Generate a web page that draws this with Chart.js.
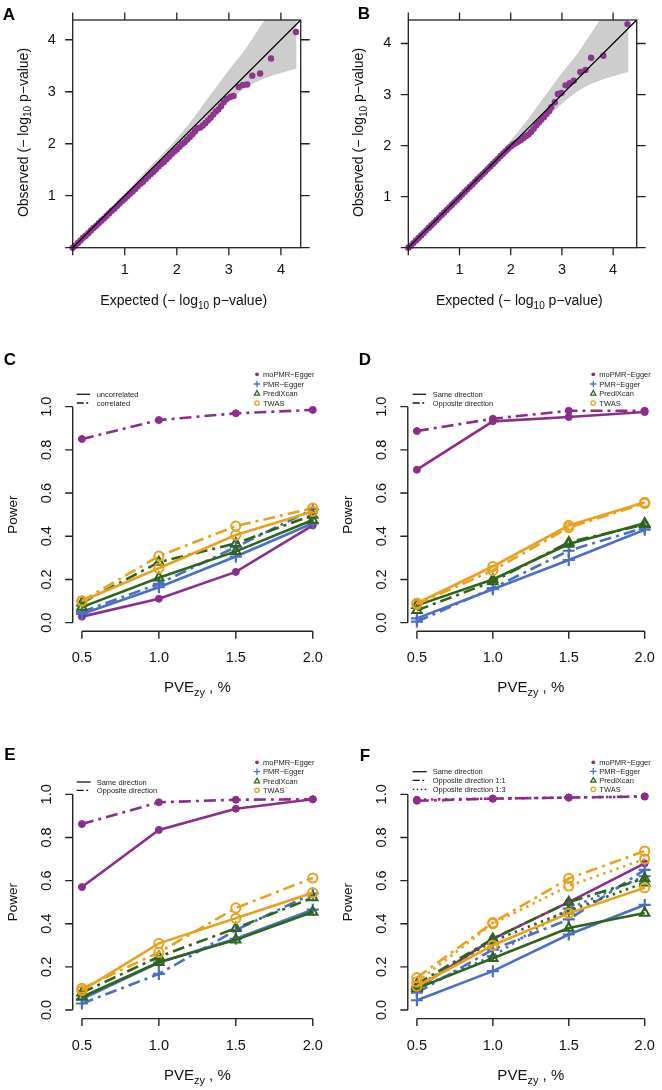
<!DOCTYPE html>
<html><head><meta charset="utf-8">
<script src="https://cdn.jsdelivr.net/npm/chart.js@4.4.0/dist/chart.umd.min.js"></script>
<style>
html,body{margin:0;padding:0;background:#fff;}
body{width:662px;height:1090px;position:relative;overflow:hidden;}
.p{position:absolute;}
canvas{display:block;}
</style></head><body>
<div class="p" style="left:0;top:0;width:331px;height:320px"><canvas id="cA" width="331" height="320"></canvas></div>
<div class="p" style="left:331px;top:0;width:331px;height:320px"><canvas id="cB" width="331" height="320"></canvas></div>
<div class="p" style="left:0;top:320px;width:331px;height:380px"><canvas id="cC" width="331" height="380"></canvas></div>
<div class="p" style="left:331px;top:320px;width:331px;height:380px"><canvas id="cD" width="331" height="380"></canvas></div>
<div class="p" style="left:0;top:700px;width:331px;height:390px"><canvas id="cE" width="331" height="390"></canvas></div>
<div class="p" style="left:331px;top:700px;width:331px;height:390px"><canvas id="cF" width="331" height="390"></canvas></div>
<script>
// ---------------- DATA ----------------
const qqTicks = [0, 1, 2, 3, 4];
const qqTickLabels = ['', '1', '2', '3', '4'];

const qqA_expected = [0.00,0.05,0.10,0.15,0.20,0.25,0.30,0.35,0.40,0.45,0.50,0.55,0.60,0.65,0.70,0.75,0.80,0.85,0.90,0.95,1.00,1.05,1.10,1.15,1.20,1.25,1.30,1.35,1.40,1.45,1.50,1.55,1.60,1.65,1.70,1.75,1.80,1.85,1.90,1.95,2.00,2.05,2.10,2.15,2.20,2.25,2.30,2.35,2.40,2.45,2.50,2.55,2.60,2.65,2.70,2.75,2.80,2.85,2.90,2.96,3.03,3.09,3.19,3.27,3.35,3.45,3.60,3.81,4.29];
const qqA_observed = [0.00,0.04,0.09,0.14,0.19,0.23,0.28,0.33,0.38,0.42,0.47,0.52,0.56,0.61,0.66,0.71,0.75,0.80,0.85,0.90,0.94,0.99,1.04,1.08,1.13,1.18,1.23,1.27,1.32,1.37,1.42,1.46,1.51,1.56,1.61,1.65,1.70,1.75,1.80,1.85,1.89,1.94,1.99,2.03,2.08,2.13,2.18,2.24,2.30,2.31,2.35,2.40,2.45,2.50,2.56,2.62,2.66,2.72,2.80,2.86,2.90,2.92,3.09,3.13,3.14,3.31,3.35,3.64,4.15];

const qqB_expected = [0.00,0.05,0.10,0.15,0.20,0.25,0.30,0.35,0.40,0.45,0.50,0.55,0.60,0.65,0.70,0.75,0.80,0.85,0.90,0.95,1.00,1.05,1.10,1.15,1.20,1.25,1.30,1.35,1.40,1.45,1.50,1.55,1.60,1.65,1.70,1.75,1.80,1.85,1.90,1.95,2.00,2.05,2.10,2.15,2.20,2.25,2.30,2.35,2.40,2.45,2.50,2.55,2.60,2.65,2.70,2.75,2.79,2.86,2.92,2.99,3.07,3.15,3.23,3.36,3.46,3.57,3.81,4.28];
const qqB_observed = [0.00,0.04,0.09,0.14,0.19,0.24,0.29,0.34,0.39,0.44,0.49,0.54,0.59,0.64,0.69,0.74,0.79,0.84,0.89,0.94,0.99,1.04,1.09,1.14,1.19,1.24,1.29,1.34,1.39,1.44,1.49,1.54,1.59,1.64,1.69,1.74,1.79,1.84,1.89,1.94,1.98,2.02,2.05,2.08,2.11,2.15,2.19,2.22,2.27,2.33,2.40,2.45,2.51,2.56,2.62,2.68,2.75,2.85,3.01,3.03,3.18,3.22,3.27,3.44,3.48,3.72,3.76,4.38];

const band_expected = [0, 0.5, 1.0, 1.5, 2.0, 2.3, 2.6, 3.0, 3.3, 3.6, 3.9, 4.1, 4.3];
const band_upper    = [0, 0.52, 1.04, 1.57, 2.10, 2.47, 2.88, 3.42, 3.80, 4.25, 4.70, 5.00, 5.30];
const band_lower    = [0, 0.48, 0.96, 1.44, 1.92, 2.17, 2.44, 2.82, 3.06, 3.22, 3.33, 3.39, 3.44];

const pveValues = [0.5, 1.0, 1.5, 2.0];
const pveTickLabels = ['0.5', '1.0', '1.5', '2.0'];
const powerTicks = [0, 0.2, 0.4, 0.6, 0.8, 1.0];
const powerTickLabels = ['0.0', '0.2', '0.4', '0.6', '0.8', '1.0'];
const methodNames = ['moPMR\u2212Egger', 'PMR\u2212Egger', 'PrediXcan', 'TWAS'];

// Panel C: uncorrelated (solid) / correlated (dot-dash)
const C_moPMR_uncor = [0.028, 0.111, 0.235, 0.450];
const C_moPMR_cor   = [0.850, 0.938, 0.969, 0.985];
const C_PMR_uncor   = [0.040, 0.164, 0.306, 0.460];
const C_PMR_cor     = [0.050, 0.180, 0.350, 0.525];
const C_Predi_uncor = [0.072, 0.208, 0.330, 0.475];
const C_Predi_cor   = [0.092, 0.280, 0.367, 0.498];
const C_TWAS_uncor  = [0.100, 0.252, 0.406, 0.515];
const C_TWAS_cor    = [0.100, 0.308, 0.447, 0.530];

// Panel D: same (solid) / opposite (dot-dash)
const D_moPMR_same = [0.708, 0.932, 0.952, 0.975];
const D_moPMR_opp  = [0.887, 0.944, 0.981, 0.981];
const D_PMR_same   = [0.020, 0.155, 0.290, 0.430];
const D_PMR_opp    = [0.005, 0.160, 0.333, 0.440];
const D_Predi_same = [0.080, 0.200, 0.364, 0.460];
const D_Predi_opp  = [0.057, 0.190, 0.372, 0.455];
const D_TWAS_same  = [0.090, 0.260, 0.450, 0.557];
const D_TWAS_opp   = [0.085, 0.242, 0.440, 0.552];

// Panel E: same (solid) / opposite (dot-dash)
const E_moPMR_same = [0.570, 0.835, 0.933, 0.977];
const E_moPMR_opp  = [0.862, 0.963, 0.975, 0.977];
const E_PMR_same   = [0.050, 0.220, 0.330, 0.465];
const E_PMR_opp    = [0.030, 0.167, 0.370, 0.540];
const E_Predi_same = [0.060, 0.221, 0.325, 0.454];
const E_Predi_opp  = [0.080, 0.247, 0.379, 0.521];
const E_TWAS_same  = [0.090, 0.309, 0.425, 0.544];
const E_TWAS_opp   = [0.100, 0.267, 0.473, 0.612];

// Panel F: same (solid) / opposite 1:1 (dot-dash) / opposite 1:3 (dotted)
const F_moPMR_same  = [0.100, 0.330, 0.500, 0.680];
const F_moPMR_opp11 = [0.970, 0.980, 0.985, 0.990];
const F_moPMR_opp13 = [0.975, 0.980, 0.985, 0.990];
const F_PMR_same    = [0.045, 0.180, 0.350, 0.487];
const F_PMR_opp11   = [0.080, 0.280, 0.420, 0.650];
const F_PMR_opp13   = [0.100, 0.250, 0.470, 0.620];
const F_Predi_same  = [0.100, 0.240, 0.380, 0.450];
const F_Predi_opp11 = [0.120, 0.330, 0.500, 0.610];
const F_Predi_opp13 = [0.110, 0.320, 0.460, 0.590];
const F_TWAS_same   = [0.110, 0.300, 0.448, 0.567];
const F_TWAS_opp11  = [0.150, 0.405, 0.610, 0.737];
const F_TWAS_opp13  = [0.130, 0.400, 0.575, 0.700];

// ---------------- STYLE ----------------
const FONT = '"Liberation Sans", Arial, Helvetica, sans-serif';
const PURPLE = '#8B2E8B', BLUE = '#4A6FC5', GREEN = '#2E651B', ORANGE = '#E8A11E';
const QQPURPLE = '#8E3590';
const DASH = { solid: [], dotdash: [12, 5, 3, 5], dotted: [2.5, 4.5] };
const LEGDASH = { solid: [], dotdash: [7, 2.5, 2, 2.5], dotted: [1.5, 2.5] };
const MSTYLE = {
  mo:    { color: PURPLE, ps: 'circle',   r: 3.5, bw: 1,   fill: true,  order: 4 },
  pmr:   { color: BLUE,   ps: 'cross',    r: 6,   bw: 2.2, fill: false, order: 3 },
  predi: { color: GREEN,  ps: 'triangle', r: 5.4, bw: 2,   fill: false, order: 2 },
  twas:  { color: ORANGE, ps: 'circle',   r: 4.6, bw: 2,   fill: false, order: 1 }
};

function txt(ctx, parts, cx, cy, rotate) {
  let w = 0;
  parts.forEach(p => { ctx.font = (p.bold ? 'bold ' : '') + p.s + 'px ' + FONT; p.w = ctx.measureText(p.t).width; w += p.w; });
  const main = parts[0].s;
  ctx.save();
  ctx.translate(cx, cy);
  if (rotate) ctx.rotate(-Math.PI / 2);
  ctx.textAlign = 'left'; ctx.textBaseline = 'alphabetic';
  let x = -w / 2;
  const base = main * 0.36;
  parts.forEach(p => {
    ctx.font = (p.bold ? 'bold ' : '') + p.s + 'px ' + FONT;
    ctx.fillText(p.t, x, base + (p.dy || 0));
    x += p.w;
  });
  ctx.restore();
}

function pts(xs, ys) { return xs.map((x, i) => ({ x: x, y: ys[i] })); }

// ---------------- QQ PANELS ----------------
function qqChart(id, exp, obs, axMax, pad, letter, letterPos) {
  const axisPlugin = {
    id: 'qqaxes',
    afterDraw(chart) {
      const ctx = chart.ctx, xs = chart.scales.x, ys = chart.scales.y, ca = chart.chartArea;
      ctx.save();
      ctx.strokeStyle = '#222'; ctx.lineWidth = 1.3; ctx.setLineDash([]);
      ctx.strokeRect(ca.left, ca.top, ca.right - ca.left, ca.bottom - ca.top);
      ctx.beginPath();
      qqTicks.forEach(v => {
        const px = xs.getPixelForValue(v), py = ys.getPixelForValue(v);
        ctx.moveTo(px, ca.bottom); ctx.lineTo(px, ca.bottom + 7.5);
        ctx.moveTo(px, ca.top); ctx.lineTo(px, ca.top - 7.5);
        ctx.moveTo(ca.left, py); ctx.lineTo(ca.left - 7.5, py);
        ctx.moveTo(ca.right, py); ctx.lineTo(ca.right + 9, py);
      });
      ctx.stroke();
      ctx.fillStyle = '#111';
      ctx.font = '14.5px ' + FONT;
      ctx.textAlign = 'center'; ctx.textBaseline = 'middle';
      qqTicks.forEach((v, i) => { if (qqTickLabels[i]) ctx.fillText(qqTickLabels[i], xs.getPixelForValue(v), ca.bottom + 22.5); });
      ctx.textAlign = 'right';
      qqTicks.forEach((v, i) => { if (qqTickLabels[i]) ctx.fillText(qqTickLabels[i], ca.left - 17, ys.getPixelForValue(v)); });
      txt(ctx, [{ t: 'Expected (\u2212 log', s: 14 }, { t: '10', s: 10, dy: 3.5 }, { t: ' p\u2212value)', s: 14 }], ca.left + 111, ca.bottom + 52.5, false);
      txt(ctx, [{ t: 'Observed (\u2212 log', s: 14 }, { t: '10', s: 10, dy: 3.5 }, { t: ' p\u2212value)', s: 14 }], ca.left - 50, ca.top + 112.5, true);
      ctx.fillStyle = '#000';
      txt(ctx, [{ t: letter, s: 17, bold: true }], letterPos[0], letterPos[1], false);
      ctx.restore();
    }
  };
  new Chart(document.getElementById(id), {
    type: 'scatter',
    data: {
      datasets: [
        { data: [{ x: 0, y: 0 }, { x: axMax, y: axMax }], showLine: true, borderColor: '#000', borderWidth: 1.2, pointRadius: 0, clip: false },
        { data: pts(exp, obs), pointRadius: 3.2, pointBackgroundColor: QQPURPLE, pointBorderColor: QQPURPLE, pointBorderWidth: 0, clip: false },
        { data: pts(band_expected, band_upper), showLine: true, borderColor: 'rgba(0,0,0,0)', borderWidth: 0, pointRadius: 0, fill: '+1', backgroundColor: '#CDCDCD', cubicInterpolationMode: 'monotone', clip: 0 },
        { data: pts(band_expected, band_lower), showLine: true, borderColor: 'rgba(0,0,0,0)', borderWidth: 0, pointRadius: 0, fill: false, cubicInterpolationMode: 'monotone', clip: 0 }
      ]
    },
    options: {
      responsive: false, devicePixelRatio: 1, animation: false, events: [],
      layout: { padding: pad },
      scales: {
        x: { type: 'linear', min: 0, max: axMax, display: false },
        y: { type: 'linear', min: 0, max: axMax, display: false }
      },
      plugins: { legend: { display: false }, tooltip: { enabled: false }, title: { display: false } }
    },
    plugins: [axisPlugin]
  });
}

qqChart('cA', qqA_expected, qqA_observed, 4.38, { left: 72.7, top: 20, right: 30.3, bottom: 72.3 }, 'A', [9, 14]);
qqChart('cB', qqB_expected, qqB_observed, 4.46, { left: 77.3, top: 20, right: 25.3, bottom: 72.3 }, 'B', [33, 12.5]);

// ---------------- POWER PANELS ----------------
function series(key, values, lty) {
  const st = MSTYLE[key];
  return {
    data: pts(pveValues, values),
    borderColor: st.color, borderWidth: 2.6, borderDash: DASH[lty], borderCapStyle: 'butt',
    pointStyle: st.ps, pointRadius: st.r, pointBorderWidth: st.bw,
    pointBorderColor: st.color, pointBackgroundColor: st.fill ? st.color : 'rgba(0,0,0,0)',
    order: st.order, clip: false, tension: 0
  };
}

function powerChart(id, pad, datasets, letter, letterPos, leg, lineLeg) {
  const axisPlugin = {
    id: 'paxes',
    afterDraw(chart) {
      const ctx = chart.ctx, xs = chart.scales.x, ys = chart.scales.y, ca = chart.chartArea;
      ctx.save();
      ctx.strokeStyle = '#222'; ctx.lineWidth = 1.4; ctx.setLineDash([]);
      ctx.beginPath();
      ctx.moveTo(ca.left, ys.getPixelForValue(powerTicks[0]));
      ctx.lineTo(ca.left, ys.getPixelForValue(powerTicks[powerTicks.length - 1]));
      powerTicks.forEach(v => { const py = ys.getPixelForValue(v); ctx.moveTo(ca.left, py); ctx.lineTo(ca.left - 7.5, py); });
      ctx.moveTo(xs.getPixelForValue(pveValues[0]), ca.bottom);
      ctx.lineTo(xs.getPixelForValue(pveValues[pveValues.length - 1]), ca.bottom);
      pveValues.forEach(v => { const px = xs.getPixelForValue(v); ctx.moveTo(px, ca.bottom); ctx.lineTo(px, ca.bottom + 7.5); });
      ctx.stroke();
      ctx.fillStyle = '#111';
      ctx.font = '14.5px ' + FONT; ctx.textAlign = 'center'; ctx.textBaseline = 'middle';
      pveValues.forEach((v, i) => ctx.fillText(pveTickLabels[i], xs.getPixelForValue(v), ca.bottom + 27));
      powerTicks.forEach((v, i) => {
        ctx.save(); ctx.translate(ca.left - 26, ys.getPixelForValue(v)); ctx.rotate(-Math.PI / 2);
        ctx.fillText(powerTickLabels[i], 0, 0); ctx.restore();
      });
      txt(ctx, [{ t: 'Power', s: 13.5 }], ca.left - 60.5, ys.getPixelForValue(0.5), true);
      txt(ctx, [{ t: 'PVE', s: 15 }, { t: 'zy', s: 11, dy: 4 }, { t: ' , %', s: 15 }], (xs.getPixelForValue(pveValues[0]) + xs.getPixelForValue(pveValues[3])) / 2, ca.bottom + 55.5, false);
      ctx.fillStyle = '#000';
      txt(ctx, [{ t: letter, s: 17, bold: true }], letterPos[0], letterPos[1], false);
      // method legend
      const keys = ['mo', 'pmr', 'predi', 'twas'];
      ctx.font = '7.5px ' + FONT; ctx.textAlign = 'left'; ctx.textBaseline = 'middle';
      keys.forEach((k, i) => {
        const st = MSTYLE[k], x = leg.x, y = leg.y[i];
        ctx.strokeStyle = st.color; ctx.fillStyle = st.color; ctx.lineWidth = 1.3;
        ctx.beginPath();
        if (k === 'mo') { ctx.arc(x, y, 1.9, 0, Math.PI * 2); ctx.fill(); }
        else if (k === 'pmr') { ctx.moveTo(x - 3.2, y); ctx.lineTo(x + 3.2, y); ctx.moveTo(x, y - 3.2); ctx.lineTo(x, y + 3.2); ctx.stroke(); }
        else if (k === 'predi') { ctx.moveTo(x, y - 2.8); ctx.lineTo(x + 2.6, y + 1.8); ctx.lineTo(x - 2.6, y + 1.8); ctx.closePath(); ctx.stroke(); }
        else { ctx.arc(x, y, 2.2, 0, Math.PI * 2); ctx.stroke(); }
        ctx.fillStyle = '#222';
        ctx.fillText(methodNames[i], x + 6, y + 0.5);
      });
      // line type legend
      ctx.strokeStyle = '#111'; ctx.lineWidth = 1.3;
      lineLeg.items.forEach((it, i) => {
        const y = lineLeg.y[i];
        ctx.setLineDash(LEGDASH[it.lty]);
        ctx.beginPath(); ctx.moveTo(lineLeg.x1, y); ctx.lineTo(lineLeg.x2, y); ctx.stroke();
        ctx.setLineDash([]);
        ctx.fillStyle = '#222';
        ctx.fillText(it.label, lineLeg.tx, y + 0.5);
      });
      ctx.restore();
    }
  };
  new Chart(document.getElementById(id), {
    type: 'line',
    data: { datasets: datasets },
    options: {
      responsive: false, devicePixelRatio: 1, animation: false, events: [],
      layout: { padding: pad },
      scales: {
        x: { type: 'linear', min: 0.44, max: 2.06, display: false },
        y: { type: 'linear', min: -0.04, max: 1.04, display: false }
      },
      plugins: { legend: { display: false }, tooltip: { enabled: false }, title: { display: false } }
    },
    plugins: [axisPlugin]
  });
}

const padL = { left: 72.7, right: 9 }, padR = { left: 76.8, right: 4.8 };

powerChart('cC', { left: padL.left, right: padL.right, top: 78, bottom: 68.7 }, [
  series('mo', C_moPMR_uncor, 'solid'), series('mo', C_moPMR_cor, 'dotdash'),
  series('pmr', C_PMR_uncor, 'solid'), series('pmr', C_PMR_cor, 'dotdash'),
  series('predi', C_Predi_uncor, 'solid'), series('predi', C_Predi_cor, 'dotdash'),
  series('twas', C_TWAS_uncor, 'solid'), series('twas', C_TWAS_cor, 'dotdash')
], 'C', [10, 39],
  { x: 257, y: [54.3, 64, 73.3, 83] },
  { x1: 76.7, x2: 90, tx: 96.7, y: [74.3, 83], items: [{ label: 'uncorrelated', lty: 'solid' }, { label: 'correlated', lty: 'dotdash' }] });

powerChart('cD', { left: padR.left, right: padR.right, top: 78, bottom: 68.7 }, [
  series('mo', D_moPMR_same, 'solid'), series('mo', D_moPMR_opp, 'dotdash'),
  series('pmr', D_PMR_same, 'solid'), series('pmr', D_PMR_opp, 'dotdash'),
  series('predi', D_Predi_same, 'solid'), series('predi', D_Predi_opp, 'dotdash'),
  series('twas', D_TWAS_same, 'solid'), series('twas', D_TWAS_opp, 'dotdash')
], 'D', [34, 39],
  { x: 262.3, y: [54.3, 64, 73.3, 83] },
  { x1: 81.7, x2: 95, tx: 101.7, y: [74.3, 83], items: [{ label: 'Same direction', lty: 'solid' }, { label: 'Opposite direction', lty: 'dotdash' }] });

powerChart('cE', { left: padL.left, right: padL.right, top: 85.7, bottom: 71.4 }, [
  series('mo', E_moPMR_same, 'solid'), series('mo', E_moPMR_opp, 'dotdash'),
  series('pmr', E_PMR_same, 'solid'), series('pmr', E_PMR_opp, 'dotdash'),
  series('predi', E_Predi_same, 'solid'), series('predi', E_Predi_opp, 'dotdash'),
  series('twas', E_TWAS_same, 'solid'), series('twas', E_TWAS_opp, 'dotdash')
], 'E', [10, 54],
  { x: 257, y: [62.3, 71.7, 81, 90.3] },
  { x1: 76.7, x2: 90.7, tx: 96.7, y: [82, 90.3], items: [{ label: 'Same direction', lty: 'solid' }, { label: 'Opposite direction', lty: 'dotdash' }] });

powerChart('cF', { left: padR.left, right: padR.right, top: 85.7, bottom: 71.4 }, [
  series('mo', F_moPMR_same, 'solid'), series('mo', F_moPMR_opp11, 'dotdash'), series('mo', F_moPMR_opp13, 'dotted'),
  series('pmr', F_PMR_same, 'solid'), series('pmr', F_PMR_opp11, 'dotdash'), series('pmr', F_PMR_opp13, 'dotted'),
  series('predi', F_Predi_same, 'solid'), series('predi', F_Predi_opp11, 'dotdash'), series('predi', F_Predi_opp13, 'dotted'),
  series('twas', F_TWAS_same, 'solid'), series('twas', F_TWAS_opp11, 'dotdash'), series('twas', F_TWAS_opp13, 'dotted')
], 'F', [34, 55],
  { x: 262.3, y: [62.3, 71.3, 80.3, 89.3] },
  { x1: 81.7, x2: 95.7, tx: 101.7, y: [71.7, 80.3, 89.3], items: [{ label: 'Same direction', lty: 'solid' }, { label: 'Opposite direction 1:1', lty: 'dotdash' }, { label: 'Opposite direction 1:3', lty: 'dotted' }] });
</script>
</body></html>
